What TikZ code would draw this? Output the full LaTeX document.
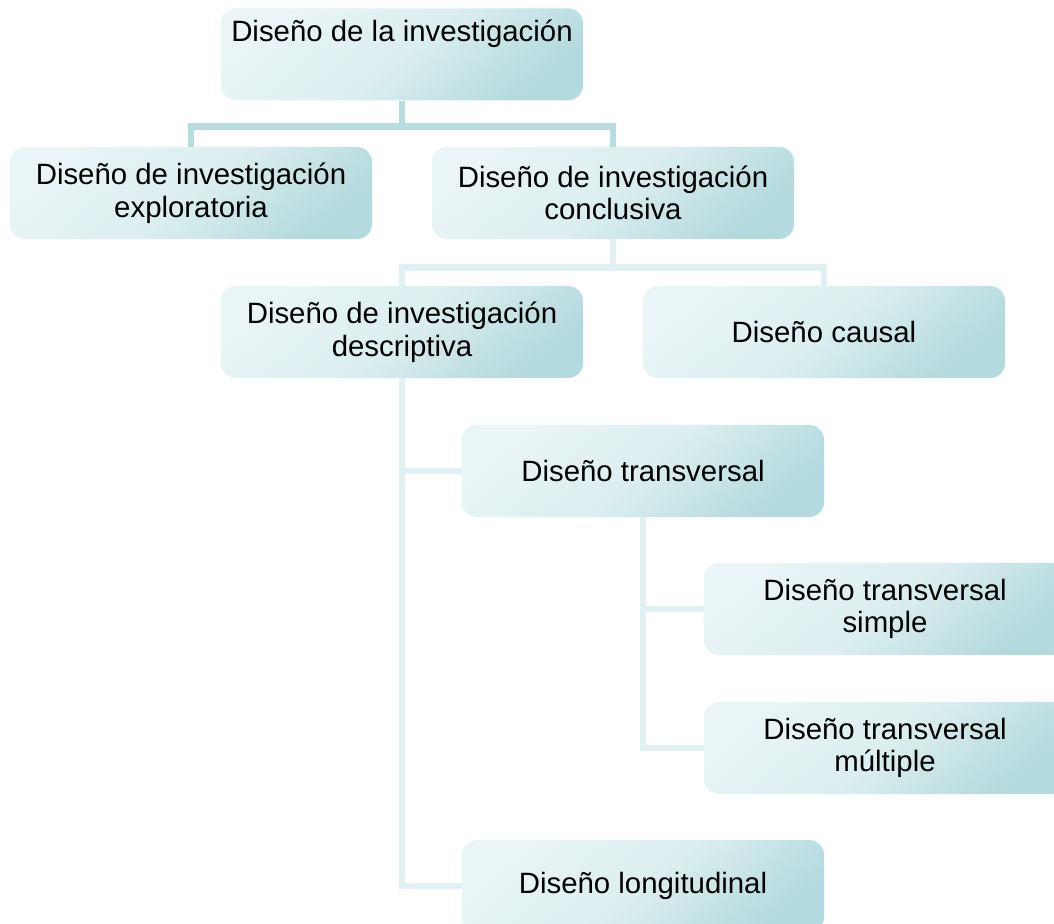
\documentclass[tikz,border=0pt]{standalone}
\usepackage{fontspec}
\setmainfont{Liberation Sans}
\usepackage{xcolor}
\usepackage{tikz}
\usetikzlibrary{positioning}
\definecolor{DisBoxLight}{HTML}{E9F5F6}
\definecolor{DisBoxDark}{HTML}{B3DADE}
\definecolor{DisLinkDark}{HTML}{B8DDE1}
\definecolor{DisLinkLight}{HTML}{E1F1F3}

\begin{document}
\begin{tikzpicture}[
  x=0.025cm, y=-0.025cm,
  font=\fontsize{20.9}{23.2}\selectfont,
  box/.style={rounded corners=0.375cm, top color=DisBoxLight, bottom color=DisBoxDark, middle color=DisBoxLight!75!DisBoxDark, shading angle=40, align=center, minimum width=9.05cm, minimum height=2.3cm, inner sep=0pt},
  link/.style={line width=4.7pt, draw=DisLinkLight},
  linkdark/.style={line width=4.7pt, draw=DisLinkDark}
]
  \useasboundingbox (0,0) rectangle (1054,924);
  \node[box, anchor=north, text height=0.825cm, text depth=1.475cm] (root) at (402,8) {Diseño de la investigación};
  \node[box] (exploratoria) at (191,193) {Diseño de investigación\\exploratoria};
  \node[box] (conclusiva) at (613,193) {Diseño de investigación\\conclusiva};
  \node[box] (descriptiva) at (402,332) {Diseño de investigación\\descriptiva};
  \node[box] (causal) at (824,332) {Diseño causal};
  \node[box] (transversal) at (643,471) {Diseño transversal};
  \node[box] (simple) at (885,609) {Diseño transversal\\simple};
  \node[box] (multiple) at (885,748) {Diseño transversal\\múltiple};
  \node[box] (longitudinal) at (643,886) {Diseño longitudinal};
  \draw[linkdark] (root.south) -- ++(0,26) -| (exploratoria.north);
  \draw[linkdark] (root.south) -- ++(0,26) -| (conclusiva.north);
  \draw[link] (conclusiva.south) -- ++(0,28) -| (descriptiva.north);
  \draw[link] (conclusiva.south) -- ++(0,28) -| (causal.north);
  \draw[link] (descriptiva.south) |- (transversal.west);
  \draw[link] (descriptiva.south) |- (longitudinal.west);
  \draw[link] (transversal.south) |- (simple.west);
  \draw[link] (transversal.south) |- (multiple.west);
\end{tikzpicture}
\end{document}
